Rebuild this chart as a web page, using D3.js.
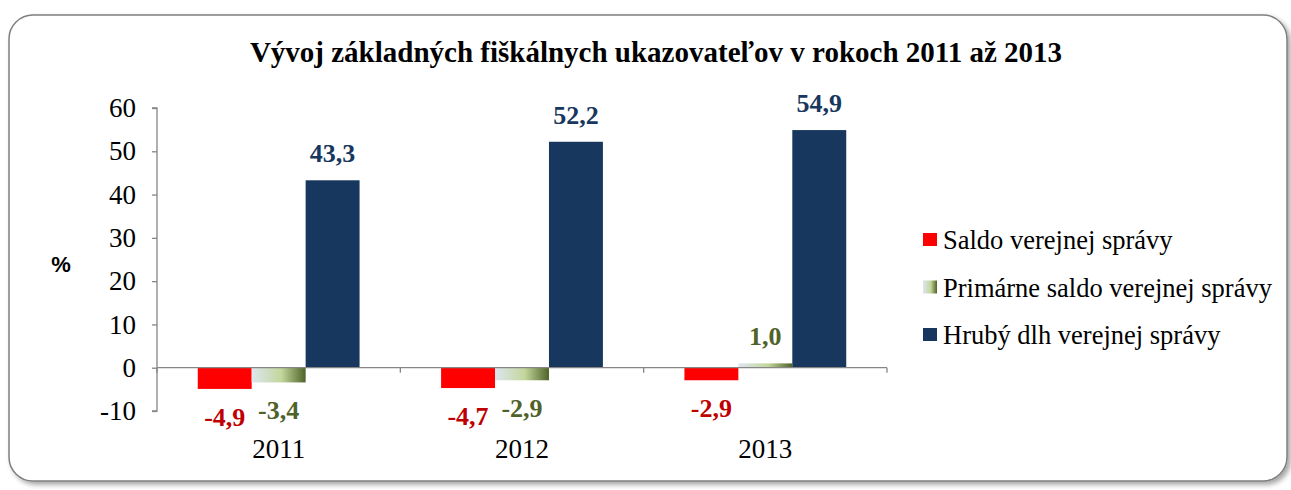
<!DOCTYPE html>
<html>
<head>
<meta charset="utf-8">
<script src="https://cdn.jsdelivr.net/npm/d3@7"></script>
<style>
  body { margin: 0; background: white; }
  svg { display: block; }
  .serif { font-family: "Liberation Serif", "Times New Roman", serif; }
</style>
</head>
<body>
<svg width="1291" height="490"></svg>
<script>
// data
var years = ["2011", "2012", "2013"]
var seriesNames = ["Saldo verejnej správy", "Primárne saldo verejnej správy", "Hrubý dlh verejnej správy"]
var saldo = [-4.9, -4.7, -2.9]
var primarne = [-3.4, -2.9, 1.0]
var dlh = [43.3, 52.2, 54.9]
var yTicks = [-10, 0, 10, 20, 30, 40, 50, 60]
var title = "Vývoj základných fiškálnych ukazovateľov v rokoch 2011 až 2013"

var fills = ["#ff0000", "url(#greenGrad)", "#17375e"]
var labelColors = ["#c00000", "#4f6228", "#17375e"]

var svg = d3.select("svg")
var defs = svg.append("defs")

var grad = defs.append("linearGradient").attr("id", "greenGrad")
  .attr("x1", "0%").attr("x2", "100%").attr("y1", "0%").attr("y2", "0%")
grad.append("stop").attr("offset", "0%").attr("stop-color", "#dde6f0")
grad.append("stop").attr("offset", "55%").attr("stop-color", "#c3d69b")
grad.append("stop").attr("offset", "100%").attr("stop-color", "#4f6228")

var shadow = defs.append("filter").attr("id", "shadow")
  .attr("x", "-5%").attr("y", "-5%").attr("width", "110%").attr("height", "115%")
shadow.append("feDropShadow")
  .attr("dx", 3).attr("dy", 3).attr("stdDeviation", 2.5)
  .attr("flood-color", "#000").attr("flood-opacity", 0.35)

// frame
svg.append("rect")
  .attr("x", 9).attr("y", 15).attr("width", 1278).attr("height", 466)
  .attr("rx", 24).attr("ry", 24)
  .style("fill", "white").style("stroke", "#7f7f7f").style("stroke-width", 1.5)
  .attr("filter", "url(#shadow)")

svg.append("text").attr("class", "serif")
  .attr("x", 656).attr("y", 62)
  .style("text-anchor", "middle").style("font-weight", "bold").style("font-size", "29px")
  .text(title)

var
  plotLeft = 157, plotRight = 887, plotTop = 108, plotBottom = 411

var x = d3.scaleBand().domain(years).range([plotLeft, plotRight])
  .paddingInner(0.335).paddingOuter(0.1675)
var xInner = d3.scaleBand().domain(d3.range(3)).range([0, x.bandwidth()])
var y = d3.scaleLinear().domain([-10, 60]).range([plotBottom, plotTop])

var rows = years.map((yr, i) => ({ year: yr, values: [saldo[i], primarne[i], dlh[i]] }))

var fmtComma = d => d3.format(".1f")(d).replace(".", ",").replace("−", "-")

// y axis
var yAxis = svg.append("g").attr("transform", `translate(${plotLeft},0)`)
  .call(d3.axisLeft(y).tickValues(yTicks).tickSize(5).tickPadding(16)
    .tickFormat(d => String(d)))
yAxis.selectAll("path, line").style("stroke", "#868686").style("stroke-width", 1.3)
yAxis.select(".domain").attr("d", `M-5,${y(60)}H0V${y(-10)}H-5`)
yAxis.selectAll("text")
  .style("font-size", "27px").style("fill", "black")
  .style("font-family", "Liberation Serif, serif")

svg.append("text")
  .attr("x", 61).attr("y", 272)
  .style("text-anchor", "middle").style("font-weight", "bold")
  .style("font-family", "Liberation Sans, Arial, sans-serif").style("font-size", "22px")
  .text("%")

// bars
var groups = svg.selectAll(".grp").data(rows).join("g")
  .attr("transform", d => `translate(${x(d.year)},0)`)

groups.selectAll("rect").data(d => d.values).join("rect")
  .attr("x", (d, i) => xInner(i))
  .attr("width", xInner.bandwidth())
  .attr("y", d => y(Math.max(0, d)))
  .attr("height", d => Math.abs(y(d) - y(0)))
  .style("fill", (d, i) => fills[i])

// x axis at zero with ticks between categories
svg.append("line")
  .attr("x1", plotLeft).attr("x2", plotRight).attr("y1", y(0)).attr("y2", y(0))
  .style("stroke", "#868686").style("stroke-width", 1.3)
var step = x.step()
svg.selectAll(".xtick").data(d3.range(years.length + 1)).join("line")
  .attr("x1", i => plotLeft + i * step).attr("x2", i => plotLeft + i * step)
  .attr("y1", y(0)).attr("y2", y(0) + 5)
  .style("stroke", "#868686").style("stroke-width", 1.3)

svg.selectAll(".xlab").data(years).join("text").attr("class", "serif")
  .attr("x", d => x(d) + x.bandwidth() / 2).attr("y", 458)
  .style("text-anchor", "middle").style("font-size", "27px")
  .text(d => d)

// value labels
groups.selectAll(".val").data(d => d.values).join("text").attr("class", "serif")
  .attr("x", (d, i) => xInner(i) + xInner.bandwidth() / 2)
  .attr("y", d => d >= 0 ? y(d) - 18 : y(d) + 37)
  .style("text-anchor", "middle").style("font-weight", "bold").style("font-size", "26px")
  .style("fill", (d, i) => labelColors[i])
  .text(fmtComma)

// legend
var legend = svg.selectAll(".leg").data(seriesNames).join("g")
  .attr("transform", (d, i) => `translate(923,${240 + i * 47.5})`)
legend.append("rect")
  .attr("x", 0).attr("y", -7).attr("width", 14).attr("height", 13)
  .style("fill", (d, i) => fills[i])
legend.append("text").attr("class", "serif")
  .attr("x", 20).attr("y", 9)
  .style("font-size", "26.5px")
  .text(d => d)
</script>
</body>
</html>
